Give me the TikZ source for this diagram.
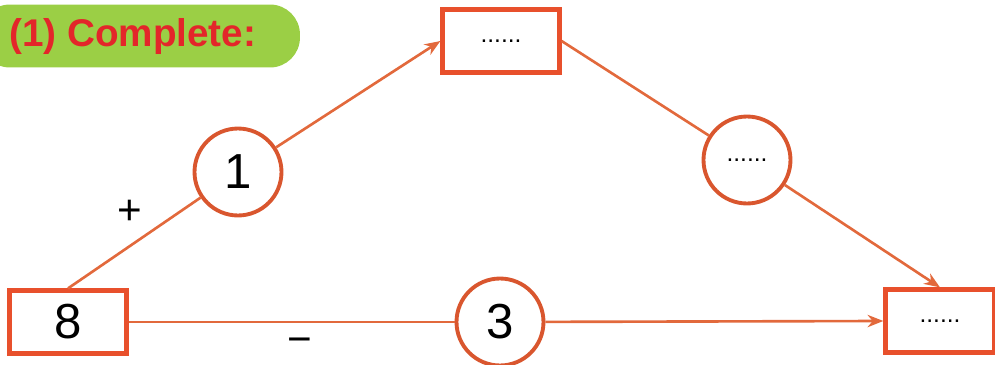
\documentclass[tikz,border=0pt]{standalone}
\usepackage{fontspec}
\setmainfont{Liberation Sans}
\usetikzlibrary{arrows.meta}
\definecolor{boxred}{HTML}{E8502C}
\definecolor{ringred}{HTML}{D9562E}
\definecolor{linered}{HTML}{E2693C}
\definecolor{bannergreen}{HTML}{9BCF45}
\definecolor{titlered}{HTML}{E3262A}
\begin{document}
\begin{tikzpicture}[x=0.02cm, y=-0.02cm,
    numbox/.style={draw=boxred, line width=2.4pt, fill=white, minimum width=2.34cm, minimum height=1.26cm, font=\fontsize{28}{30}\selectfont},
    ring/.style={draw=ringred, line width=2.2pt, circle, fill=white, minimum size=1.74cm, inner sep=0pt, font=\fontsize{28}{30}\selectfont},
    link/.style={draw=linered, line width=1.5pt},
    dots/.style={font=\fontsize{14}{16}\selectfont}]
    \useasboundingbox (0,0) rectangle (995,365);
    \node[fill=bannergreen, rounded corners=0.6cm, minimum width=6.4cm, minimum height=1.26cm] (banner) at (140,36) {};
    \node[anchor=west, text=titlered, font=\fontsize{22}{24}\selectfont\bfseries] (title) at (3,37) {(1) Complete:};
    \node[numbox] (top) at (501,41) {};
    \node[dots] (topdots) at (top) {......};
    \node[numbox] (start) at (68,322) {8};
    \node[numbox, minimum width=2.18cm] (finish) at (940,321) {};
    \node[dots] (finishdots) at (finish) {......};
    \node[ring] (one) at (238,172) {1};
    \node[ring] (mid) at (747,160) {};
    \node[dots] (middots) at (mid) {......};
    \node[ring] (three) at (500,322) {3};
    \draw[link] (start.north) -- (one);
    \draw[link, -{Stealth[length=9pt, width=7pt]}] (one) -- (top.west);
    \draw[link] (top.east) -- (mid);
    \draw[link, -{Stealth[length=9pt, width=7pt]}] (mid) -- (finish.north);
    \draw[link] (start) -- (three);
    \draw[link, -{Stealth[length=9pt, width=7pt]}] (three) -- (finish.west);
    \node[font=\fontsize{24}{26}\selectfont] (plus) at (130,212) {+};
    \node[font=\fontsize{24}{26}\selectfont] (minus) at (300,346) {−};
\end{tikzpicture}
\end{document}
